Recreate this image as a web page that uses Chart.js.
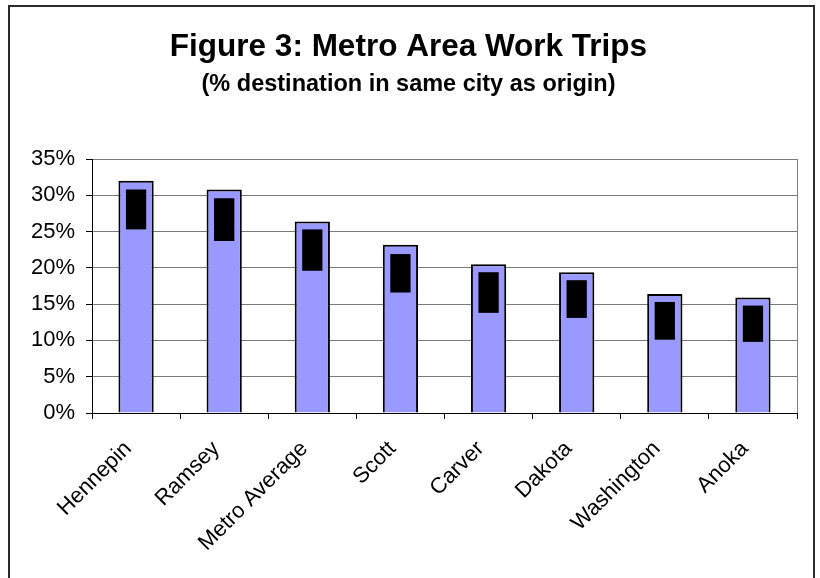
<!DOCTYPE html>
<html>
<head>
<meta charset="utf-8">
<script src="https://cdn.jsdelivr.net/npm/chart.js@4"></script>
<style>
  body { margin: 0; background: #fff; }
  canvas { display: block; }
</style>
</head>
<body>
<canvas id="tripChart" width="820" height="578"></canvas>
<script>
const counties = ["Hennepin", "Ramsey", "Metro Average", "Scott", "Carver", "Dakota", "Washington", "Anoka"];
const sameCityPct = [32.0, 30.8, 26.4, 23.2, 20.5, 19.4, 16.4, 15.9];
const blockTop = [30.8, 29.6, 25.3, 21.9, 19.4, 18.3, 15.3, 14.8];
const blockBottom = [25.3, 23.7, 19.6, 16.6, 13.8, 13.1, 10.1, 9.8];
const yTicks = [0, 5, 10, 15, 20, 25, 30, 35];

const font = "'Liberation Sans', Arial, sans-serif";

// outer frame + right edge of plot
const framePlugin = {
  id: "frame",
  beforeDraw(chart) {
    const c = chart.ctx;
    c.save();
    c.fillStyle = "#fff";
    c.fillRect(0, 0, chart.width, chart.height);
    c.strokeStyle = "#2b2b2b";
    c.lineWidth = 2;
    c.beginPath();
    c.moveTo(9, 600);
    c.lineTo(9, 6);
    c.lineTo(814, 6);
    c.lineTo(814, 600);
    c.stroke();
    c.restore();
  },
  afterDatasetsDraw(chart) {
    const a = chart.chartArea;
    const c = chart.ctx;
    c.save();
    c.strokeStyle = "#808080";
    c.lineWidth = 1;
    c.beginPath();
    c.moveTo(Math.round(a.right) + 0.5, a.top);
    c.lineTo(Math.round(a.right) + 0.5, a.bottom);
    c.stroke();
    c.restore();
  },
};

let ctx = document.getElementById("tripChart").getContext("2d");

new Chart(ctx, {
  type: "bar",
  data: {
    labels: counties,
    datasets: [
      {
        label: "range",
        data: blockBottom.map((b, i) => [b, blockTop[i]]),
        backgroundColor: "#000000",
        borderWidth: 0,
        grouped: false,
        barPercentage: 0.23,
        categoryPercentage: 1,
      },
      {
        label: "% destination in same city as origin",
        data: sameCityPct,
        backgroundColor: "#9999FF",
        borderColor: "#000000",
        borderWidth: 2,
        grouped: false,
        barPercentage: 0.4,
        categoryPercentage: 1,
      },
    ],
  },
  options: {
    responsive: false,
    animation: false,
    layout: { padding: { left: 20, right: 23, top: 0, bottom: 0 } },
    plugins: {
      legend: { display: false },
      tooltip: { enabled: false },
      title: {
        display: true,
        text: "Figure 3: Metro Area Work Trips",
        color: "#000",
        font: { family: font, size: 31.5, weight: "bold" },
        padding: { top: 28, bottom: 0 },
      },
      subtitle: {
        display: true,
        text: "(% destination in same city as origin)",
        color: "#000",
        font: { family: font, size: 23.5, weight: "bold" },
        padding: { top: 5, bottom: 60 },
      },
    },
    scales: {
      x: {
        grid: {
          offset: true,
          drawOnChartArea: false,
          tickLength: 6,
          color: "#000",
        },
        border: { color: "#000", width: 1 },
        ticks: {
          color: "#000",
          font: { family: font, size: 22 },
          minRotation: 45,
          maxRotation: 45,
          autoSkip: false,
          padding: 17,
          labelOffset: -8,
        },
        afterFit(scale) {
          scale.height = 165;
        },
      },
      y: {
        min: 0,
        max: 35,
        afterBuildTicks(scale) {
          scale.ticks = yTicks.map((v) => ({ value: v }));
        },
        grid: {
          color: "#7a7a7a",
          tickColor: "#000",
          tickLength: 6,
        },
        border: { color: "#000", width: 1 },
        ticks: {
          color: "#000",
          font: { family: font, size: 22 },
          padding: 11,
          callback: (v) => v + "%",
        },
        afterFit(scale) {
          scale.width = 72;
        },
      },
    },
  },
  plugins: [framePlugin],
});
</script>
</body>
</html>
